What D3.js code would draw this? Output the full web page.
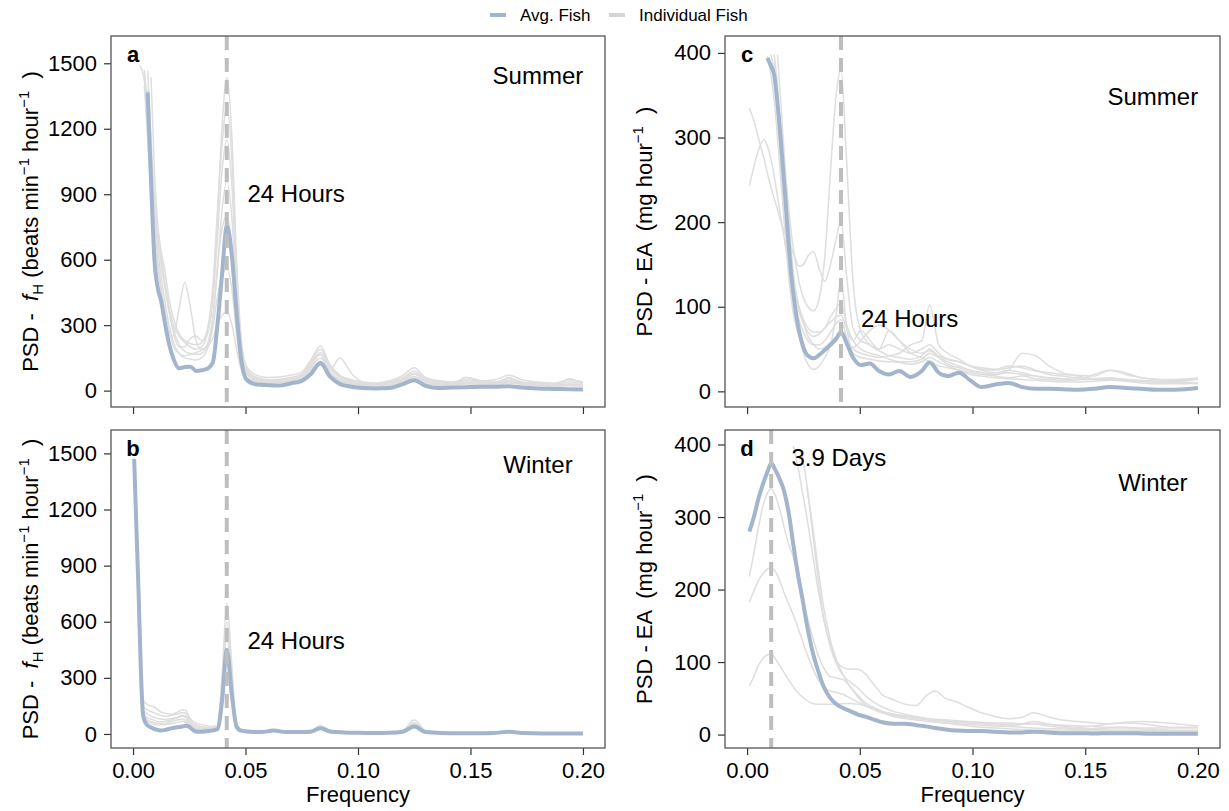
<!DOCTYPE html>
<html>
<head>
<meta charset="utf-8">
<script src="https://cdn.jsdelivr.net/npm/d3@7"></script>
<style>
body { margin: 0; background: #fff; }
svg text { font-family: "Liberation Sans", Arial, sans-serif; fill: #000; }
</style>
</head>
<body>
<svg id="chart" width="1229" height="811"></svg>
<script>
// frequency grids (cycles per hour) and PSD values
var FREQ_A = [0.003, 0.005, 0.0065, 0.008, 0.0095, 0.011, 0.0125, 0.014, 0.016, 0.018,
	0.0205, 0.023, 0.0255, 0.028, 0.0305, 0.033, 0.0355, 0.0375, 0.0395, 0.0417,
	0.044, 0.046, 0.048, 0.0505, 0.055, 0.06, 0.065, 0.07, 0.075, 0.079,
	0.0833, 0.0875, 0.092, 0.097, 0.102, 0.108, 0.114, 0.12, 0.125, 0.13,
	0.136, 0.142, 0.148, 0.155, 0.161, 0.167, 0.173, 0.18, 0.187, 0.194,
	0.2];
var AVG_A = [null, null, 1367, 960, 600, 470, 410, 320, 215, 145,
	102, 108, 110, 90, 93, 100, 130, 300, 525, 755,
	610, 360, 150, 50, 28, 25, 23, 33, 45, 75,
	127, 65, 30, 18, 12, 10, 12, 30, 48, 22,
	12, 14, 16, 18, 18, 20, 14, 10, 8, 6,
	5];
var IND_A = [
	[1490,1420,1200,980,820,700,600,500,380,300, 250,220,200,190,200,260,450,800,1200,1436, 1150,600,250,110,70,60,62,70,85,140, 205,120,70,50,40,35,45,70,105,60, 45,40,50,45,50,70,50,40,35,50, 40],
	[null,1460,1300,1050,850,740,640,560,420,330, 260,230,215,210,220,280,480,820,1120,1300, 1050,560,230,100,60,50,52,60,75,130, 190,110,65,45,35,30,40,60,90,55, 40,35,45,40,40,55,40,35,30,40, 35],
	[null,null,1466,1150,880,720,580,480,360,260, 200,200,240,250,230,260,420,700,1000,1150, 930,500,200,90,55,45,48,55,70,120, 175,100,60,40,32,28,35,55,80,50, 38,32,60,45,38,45,35,30,28,30, 30],
	[null,1400,1150,900,700,560,450,340,260,250, 380,495,380,230,190,210,330,560,820,960, 780,420,180,80,50,45,48,55,70,115, 165,95,150,80,40,30,32,50,75,45, 35,30,38,35,35,45,35,30,25,28, 25],
	[null,null,null,1436,1000,760,620,500,380,280, 210,180,170,165,170,210,340,560,740,800, 650,360,160,75,45,40,42,50,62,105, 150,85,50,35,28,25,30,45,65,40, 30,28,60,40,30,60,35,28,22,25, 22],
	[null,null,1380,1080,820,650,520,420,300,220, 170,150,145,140,150,190,290,430,520,560, 460,260,120,60,40,35,38,45,55,95, 135,75,45,30,25,22,28,40,60,38, 28,25,35,30,28,40,30,25,20,22, 20],
	[null,1470,1250,1000,780,600,480,380,280,200, 170,160,165,175,185,200,240,300,345,360, 300,190,100,55,38,35,38,42,50,85, 115,65,40,28,22,20,25,35,50,32, 25,22,30,28,25,35,28,22,20,55, 30]
];

var FREQ_B = [0.0005, 0.0015, 0.0025, 0.0035, 0.0045, 0.006, 0.008, 0.01, 0.012, 0.0145,
	0.017, 0.0195, 0.022, 0.0235, 0.025, 0.0275, 0.03, 0.0325, 0.035, 0.0375,
	0.0395, 0.0417, 0.044, 0.046, 0.048, 0.052, 0.057, 0.0625, 0.068, 0.074,
	0.079, 0.0833, 0.088, 0.094, 0.1, 0.107, 0.114, 0.12, 0.125, 0.13,
	0.137, 0.145, 0.153, 0.16, 0.167, 0.174, 0.182, 0.19, 0.2];
var AVG_B = [1470, 1100, 740, 330, 95, 50, 35, 25, 18, 22,
	30, 36, 40, 44, 38, 15, 12, 15, 18, 25,
	170, 450, 200, 40, 18, 12, 10, 18, 10, 10,
	12, 30, 12, 8, 6, 5, 6, 12, 40, 10,
	5, 4, 4, 5, 12, 5, 3, 3, 2];
var IND_B = [
	[1480,1150,800,420,180,160,150,140,120,110, 105,115,130,125,90,60,50,45,40,45, 300,700,350,60,25,18,15,22,15,14, 18,45,18,12,9,8,10,20,75,18, 8,6,6,8,15,7,5,5,4],
	[1460,1120,760,380,150,130,120,110,100,95, 100,105,115,110,80,50,40,35,32,40, 250,600,300,50,20,15,13,20,13,12, 15,40,15,10,8,7,8,18,60,15, 7,5,5,7,13,6,4,4,3],
	[1450,1080,720,350,130,110,95,85,80,78, 82,90,100,95,65,40,32,28,28,35, 220,520,260,45,18,14,12,18,12,11, 14,35,14,9,7,6,8,15,55,14, 6,5,4,6,12,5,4,3,3],
	[1470,1100,740,340,120,90,80,70,65,68, 75,85,95,85,55,35,28,25,25,30, 190,450,230,40,16,12,11,16,11,10, 13,32,12,8,6,5,7,14,50,12, 5,4,4,5,11,5,3,3,3],
	[1440,1050,700,320,110,80,65,60,55,58, 65,75,80,70,45,30,25,22,22,28, 160,400,200,35,15,12,10,15,10,9, 12,28,11,7,5,5,6,12,45,11, 5,4,3,5,10,4,3,3,2],
	[1460,1080,700,300,100,70,55,50,48,50, 55,62,68,60,40,28,22,20,20,25, 140,330,170,30,14,11,10,14,10,9, 11,25,10,6,5,4,6,10,40,10, 4,3,3,4,9,4,3,2,2]
];

var FREQ_C = [0.001, 0.003, 0.005, 0.0075, 0.009, 0.0105, 0.012, 0.0135, 0.015, 0.0165,
	0.018, 0.0195, 0.021, 0.023, 0.025, 0.027, 0.0295, 0.032, 0.0345, 0.037,
	0.0395, 0.0417, 0.044, 0.047, 0.0505, 0.0545, 0.0585, 0.063, 0.0675, 0.0725,
	0.0775, 0.081, 0.085, 0.089, 0.094, 0.099, 0.104, 0.11, 0.116, 0.122,
	0.128, 0.134, 0.14, 0.147, 0.154, 0.161, 0.168, 0.175, 0.182, 0.19,
	0.2];
var AVG_C = [null, null, null, null, 394, 385, 374, 340, 295, 245,
	190, 140, 105, 72, 52, 42, 39, 43, 49, 55,
	62, 70, 58, 40, 31, 33, 24, 20, 24, 17,
	24, 34, 22, 18, 22, 13, 5, 8, 10, 5,
	3, 3, 2.5, 2, 3, 5, 4, 3, 2, 2,
	4];
var IND_C = [
	[335,320,300,275,258,242,228,215,200,190, 180,170,160,148,150,160,165,145,130,150, 180,202,140,75,60,55,50,55,50,45, 50,55,45,38,35,30,25,22,25,22, 18,16,15,14,15,16,14,13,12,12, 14],
	[243,265,285,297,290,275,255,230,205,180, 155,135,118,100,85,75,70,70,75,88, 98,105,80,60,50,45,42,38,35,35, 38,45,40,35,30,25,22,20,25,45, 42,30,22,18,15,14,13,12,11,10, 9],
	[null,null,null,null,null,398,380,350,310,270, 230,190,160,130,110,100,95,110,160,260, 350,380,280,130,70,55,48,42,40,38, 42,50,40,32,28,24,22,20,22,20, 18,16,15,14,14,15,14,12,12,13, 15],
	[null,null,null,null,null,null,398,360,300,240, 190,150,120,95,80,70,65,68,75,82, 88,90,75,60,72,60,50,72,60,45, 40,35,30,28,25,22,20,18,16,18, 15,14,13,14,20,25,22,16,14,12, 10],
	[null,null,null,null,396,375,345,300,250,200, 160,130,105,85,70,60,55,55,60,70, 80,85,65,50,45,42,40,42,45,55, 60,102,55,45,38,30,26,25,28,30, 25,20,18,16,15,14,13,12,11,10, 10],
	[null,null,null,null,null,null,null,398,340,280, 220,170,130,100,80,65,55,50,52,58, 65,70,60,52,60,72,78,72,60,50, 45,48,42,38,35,30,28,26,30,28, 24,22,20,19,18,25,20,16,14,14, 16],
	[null,null,null,null,null,null,390,330,260,200, 150,110,85,65,45,32,26,30,40,55, 90,134,80,45,40,38,36,35,34,32, 35,40,35,30,25,20,18,16,15,14, 13,12,11,11,12,13,12,10,9,9, 10]
];

var FREQ_D = [0.001, 0.003, 0.005, 0.007, 0.009, 0.0107, 0.0125, 0.0145, 0.0165, 0.0185,
	0.0205, 0.0225, 0.0245, 0.0265, 0.029, 0.0315, 0.034, 0.037, 0.04, 0.043,
	0.046, 0.049, 0.052, 0.056, 0.06, 0.065, 0.07, 0.075, 0.08, 0.0835,
	0.088, 0.093, 0.098, 0.104, 0.11, 0.116, 0.122, 0.127, 0.133, 0.14,
	0.147, 0.154, 0.161, 0.168, 0.175, 0.182, 0.19, 0.2];
var AVG_D = [280, 300, 325, 345, 362, 374, 365, 352, 335, 305,
	262, 222, 188, 152, 115, 88, 66, 50, 41, 36,
	32, 28, 25, 21, 17, 15, 15, 13, 11, 9,
	7, 5.5, 5, 5, 4, 3, 3, 4, 3, 2,
	2, 1.5, 2, 2, 1.5, 1, 1, 1];
var IND_D = [
	[67,80,95,105,110,111,105,95,85,75, 66,58,52,47,43,42,42,42,42,43, 43,42,40,36,32,28,25,22,20,18, 16,14,12,10,9,8,7,6,6,5, 5,5,4,4,4,4,4,4],
	[182,198,212,222,228,230,225,212,195,180, 165,148,130,112,92,76,65,60,58,55, 50,45,40,35,30,25,22,20,18,17, 16,15,14,13,12,11,10,9,8,8, 7,7,6,6,6,5,5,5],
	[218,250,285,315,333,339,330,310,285,262, 245,222,195,165,135,110,92,80,78,75, 65,55,45,38,32,28,26,24,22,21, 20,19,18,17,16,16,15,15,14,13, 12,11,10,10,9,9,9,9],
	[null,null,null,null,null,null,null,null,null,null, 398,370,335,300,250,200,160,125,100,92, 90,90,85,70,55,48,42,40,55,60, 50,45,38,30,25,22,24,30,25,20, 18,16,15,17,18,17,15,12],
	[null,null,null,null,null,null,null,null,null,null, null,null,385,345,280,215,160,120,95,80, 72,65,55,45,38,32,28,25,22,20, 20,18,17,16,15,14,15,18,15,12, 10,12,15,16,15,12,10,10],
	[null,null,null,null,null,null,null,null,null,null, null,null,null,340,290,230,175,130,100,80, 65,52,42,35,30,26,24,22,21,20, 18,17,16,15,13,12,14,15,12,10, 8,8,9,9,8,7,6,6]
];

var X_TICKS = [0, 0.05, 0.1, 0.15, 0.2];
var Y_TICKS_FH = [0, 300, 600, 900, 1200, 1500];
var Y_TICKS_EA = [0, 100, 200, 300, 400];
var LEGEND_LABELS = ["Avg. Fish", "Individual Fish"];

var LABEL_FH = [
	{t: "PSD -  "}, {t: "f", it: true}, {t: "H", size: 15, dy: 5},
	{t: " (beats min", dy: -5}, {t: "\u22121", size: 15, dy: -9},
	{t: " hour", dy: 9}, {t: "\u22121", size: 15, dy: -9}, {t: "  )", dy: 9}
];
var LABEL_EA = [
	{t: "PSD - EA  (mg hour"}, {t: "\u22121", size: 15, dy: -9}, {t: "  )", dy: 9}
];

var chart = {
	avgColor : "#a2b5cd",
	indColor : "#dedede",
	markColor : "#bebebe",
	xlim : [-0.0098, 0.2098],

	init : function ()
	{
		this.svg = d3.select("svg#chart");

		var panels = [
			{id: "a", box: [111, 36, 605, 407], freq: FREQ_A, avg: AVG_A, ind: IND_A, ylim: [-75, 1625],
				yticks: Y_TICKS_FH, ylab: LABEL_FH, xlabels: false, mark: 1 / 24,
				season: "Summer", seasonY: 1442, note: "24 Hours", noteAt: [0.0725, 905]},
			{id: "b", box: [111, 430, 605, 748], freq: FREQ_B, avg: AVG_B, ind: IND_B, ylim: [-75, 1625],
				yticks: Y_TICKS_FH, ylab: LABEL_FH, xlabels: true, mark: 1 / 24,
				season: "Winter", seasonY: 1442, note: "24 Hours", noteAt: [0.0725, 500]},
			{id: "c", box: [725, 36, 1220, 407], freq: FREQ_C, avg: AVG_C, ind: IND_C, ylim: [-18.5, 420],
				yticks: Y_TICKS_EA, ylab: LABEL_EA, xlabels: false, mark: 1 / 24,
				season: "Summer", seasonY: 348, note: "24 Hours", noteAt: [0.0721, 86]},
			{id: "d", box: [725, 430, 1220, 748], freq: FREQ_D, avg: AVG_D, ind: IND_D, ylim: [-18.5, 420],
				yticks: Y_TICKS_EA, ylab: LABEL_EA, xlabels: true, mark: 1 / 93.6,
				season: "Winter", seasonY: 348, note: "3.9 Days", noteAt: [0.0407, 382]}
		];

		panels.forEach(this.renderPanel.bind(this));
		this.renderLegend();
	},

	renderPanel : function (p)
	{
		var x0 = p.box[0], y0 = p.box[1], x1 = p.box[2], y1 = p.box[3];
		var x = d3.scaleLinear().domain(this.xlim).range([x0, x1]);
		var y = d3.scaleLinear().domain(p.ylim).range([y1, y0]);
		var g = this.svg.append("g").attr("class", "panel-" + p.id);

		g.append("clipPath").attr("id", "clip-" + p.id)
		.append("rect")
		.attr("x", x0).attr("y", y0)
		.attr("width", x1 - x0).attr("height", y1 - y0);

		var plot = g.append("g").attr("clip-path", "url(#clip-" + p.id + ")");

		var line = d3.line()
		.defined(function (d) { return d[1] !== null; })
		.x(function (d) { return x(d[0]); })
		.y(function (d) { return y(d[1]); })
		.curve(d3.curveMonotoneX);

		function pairs(vals) {
			return p.freq.map(function (f, i) { return [f, vals[i]]; });
		}

		// individual fish first, the average on top
		plot.selectAll("path.ind")
		.data(p.ind)
		.enter().append("path")
		.attr("class", "ind")
		.attr("d", function (d) { return line(pairs(d)); })
		.attr("fill", "none")
		.attr("stroke", this.indColor)
		.attr("stroke-width", 1.5);

		plot.append("path")
		.attr("d", line(pairs(p.avg)))
		.attr("fill", "none")
		.attr("stroke", this.avgColor)
		.attr("stroke-width", 4)
		.attr("stroke-linejoin", "round");

		plot.append("line")
		.attr("x1", x(p.mark)).attr("x2", x(p.mark))
		.attr("y1", y0).attr("y2", y1)
		.attr("stroke", this.markColor)
		.attr("stroke-width", 4)
		.attr("stroke-dasharray", "14,8");

		// axes
		var yAxis = d3.axisLeft(y).tickValues(p.yticks).tickSize(7).tickPadding(7)
		.tickFormat(d3.format("d"));
		var gy = g.append("g").attr("transform", "translate(" + x0 + ",0)").call(yAxis);
		gy.select(".domain").remove();

		var xAxis = d3.axisBottom(x).tickValues(X_TICKS).tickSize(7).tickPadding(7)
		.tickFormat(p.xlabels ? d3.format(".2f") : "");
		var gx = g.append("g").attr("transform", "translate(0," + y1 + ")").call(xAxis);
		gx.select(".domain").remove();

		g.selectAll(".tick line").attr("stroke", "#333").attr("stroke-width", 1.2);
		g.selectAll(".tick text").style("font-size", "22px").attr("fill", "#000");

		g.append("rect")
		.attr("x", x0).attr("y", y0)
		.attr("width", x1 - x0).attr("height", y1 - y0)
		.attr("fill", "none")
		.attr("stroke", "#555")
		.attr("stroke-width", 1.3);

		// y label
		var lab = g.append("text")
		.attr("transform", "translate(" + (x0 - 73) + "," + ((y0 + y1) / 2) + ") rotate(-90)")
		.attr("text-anchor", "middle")
		.style("font-size", "22px")
		.style("white-space", "pre");
		p.ylab.forEach(function (pt) {
			var ts = lab.append("tspan").text(pt.t);
			if (pt.it) ts.style("font-style", "italic");
			if (pt.size) ts.style("font-size", pt.size + "px");
			if (pt.dy) ts.attr("dy", pt.dy);
		});

		if (p.xlabels) {
			g.append("text")
			.attr("x", (x0 + x1) / 2)
			.attr("y", 802)
			.attr("text-anchor", "middle")
			.style("font-size", "22px")
			.text("Frequency");
		}

		// panel letter, season and peak note
		g.append("text")
		.attr("x", x(0)).attr("y", y0 + 26)
		.attr("text-anchor", "middle")
		.style("font-size", "22px")
		.style("font-weight", "bold")
		.text(p.id);

		g.append("text")
		.attr("x", x(0.18)).attr("y", y(p.seasonY))
		.attr("dy", "0.35em")
		.attr("text-anchor", "middle")
		.style("font-size", "24px")
		.text(p.season);

		g.append("text")
		.attr("x", x(p.noteAt[0])).attr("y", y(p.noteAt[1]))
		.attr("dy", "0.35em")
		.attr("text-anchor", "middle")
		.style("font-size", "24px")
		.text(p.note);
	},

	renderLegend : function ()
	{
		var leg = this.svg.append("g").attr("class", "legend");
		var items = [
			{label: LEGEND_LABELS[0], color: this.avgColor, x: 490},
			{label: LEGEND_LABELS[1], color: "#d5d5d5", x: 609}
		];

		items.forEach(function (it) {
			leg.append("line")
			.attr("x1", it.x).attr("x2", it.x + 16)
			.attr("y1", 15).attr("y2", 15)
			.attr("stroke", it.color)
			.attr("stroke-width", 4);

			leg.append("text")
			.attr("x", it.x + 30).attr("y", 21)
			.style("font-size", "17px")
			.text(it.label);
		});
	}
};

chart.init();
</script>
</body>
</html>
